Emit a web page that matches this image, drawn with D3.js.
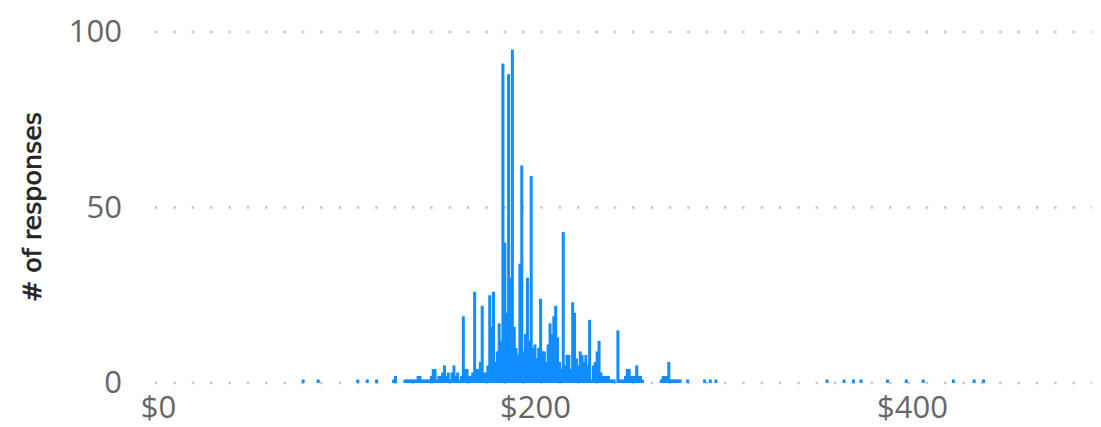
<!DOCTYPE html>
<html>
<head>
<meta charset="utf-8">
<script src="https://cdn.jsdelivr.net/npm/d3@7"></script>
<style>
  html, body { margin: 0; padding: 0; background: #fff; }
  svg { display: block; }
</style>
</head>
<body>
<script>
// ---- data ----
const prices = [
  77, 85, 106, 111, 116, 125, 126,
  131, 132, 133, 134, 135, 136, 137, 138, 139, 140, 141, 142, 143, 144, 145, 146, 147, 148, 149, 150,
  151, 152, 153, 154, 155, 156, 157, 158, 159, 160, 161, 162, 163, 164, 165, 166, 167, 168, 169, 170,
  171, 172, 173, 174, 175, 176, 177, 178, 179, 180, 181, 182, 183, 184, 185, 186, 187, 188, 189, 190,
  191, 192, 193, 194, 195, 196, 197, 198, 199, 200, 201, 202, 203, 204, 205, 206, 207, 208, 209, 210,
  211, 212, 213, 214, 215, 216, 217, 218, 219, 220, 221, 222, 223, 224, 225, 226, 227, 228, 229, 230,
  231, 232, 233, 234, 235, 236, 237, 238, 239, 240, 241, 242, 244, 245, 246, 247, 248, 249, 250,
  251, 252, 253, 254, 255, 256, 257,
  267, 268, 269, 270, 271, 272, 273, 274, 275, 276, 277, 281, 290, 293, 296,
  355, 364, 369, 373, 387, 397, 406, 422, 433, 438
];
const responses = [
  1, 1, 1, 1, 1, 1, 2,
  1, 1, 1, 1, 1, 1, 1, 2, 2, 1, 1, 1, 1, 1, 2, 4, 4, 1, 2, 2,
  3, 5, 2, 3, 1, 3, 5, 2, 3, 1, 2, 19, 4, 4, 2, 2, 3, 26, 4, 4,
  6, 22, 3, 3, 5, 25, 16, 26, 6, 9, 17, 12, 91, 40, 20, 88, 30, 95, 16, 10,
  8, 34, 62, 9, 14, 30, 12, 59, 10, 11, 7, 10, 24, 9, 9, 6, 11, 17, 14, 19,
  22, 13, 6, 4, 43, 5, 8, 8, 4, 23, 20, 7, 5, 9, 8, 6, 8, 5, 18, 1,
  5, 6, 9, 12, 3, 2, 2, 2, 2, 1, 1, 1, 15, 1, 1, 1, 2, 4, 4,
  2, 2, 2, 5, 2, 2, 1,
  1, 2, 2, 2, 6, 1, 1, 1, 1, 1, 1, 1, 1, 1, 1,
  1, 1, 1, 1, 1, 1, 1, 1, 1, 1
];
const yTicks = [0, 50, 100];
const xTicks = [0, 200, 400];
const yTitle = "# of responses";

// ---- chart ----
const W = 1101, H = 427;
const svg = d3.select("body").append("svg").attr("width", W).attr("height", H);

const x = d3.scaleLinear().domain([0, 495]).range([158, 1091]);
const y = d3.scaleLinear().domain([0, 100]).range([383, 32]);

const data = prices.map((p, i) => ({ p, v: responses[i] }));

// gridlines (dotted)
svg.append("g").selectAll("line").data(yTicks).join("line")
  .attr("x1", 155).attr("x2", 1092)
  .attr("y1", d => y(d)).attr("y2", d => y(d))
  .attr("stroke", "#c8c6c4").attr("stroke-width", 2.5)
  .attr("stroke-dasharray", "2.5,15.85");

// bars
const bw = 3;
svg.append("g").selectAll("rect").data(data).join("rect")
  .attr("x", d => x(d.p) - bw / 2)
  .attr("width", bw)
  .attr("y", d => y(d.v))
  .attr("height", d => y(0) - y(d.v))
  .attr("fill", "#118dff");

// y axis
const yAxis = d3.axisLeft(y).tickValues(yTicks).tickSize(0).tickPadding(0);
const gy = svg.append("g").attr("transform", "translate(122,0)").call(yAxis);
gy.select(".domain").remove();
gy.selectAll("text")
  .attr("font-family", "'Open Sans', 'Segoe UI', sans-serif")
  .attr("font-size", 31).attr("fill", "#666666");

// x axis
const xAxis = d3.axisBottom(x).tickValues(xTicks).tickSize(0).tickPadding(0)
  .tickFormat(d => "$" + d);
const gx = svg.append("g").attr("transform", "translate(0,396)").call(xAxis);
gx.select(".domain").remove();
gx.selectAll("text")
  .attr("font-family", "'Open Sans', 'Segoe UI', sans-serif")
  .attr("font-size", 31).attr("fill", "#666666");

// y title
svg.append("text")
  .attr("transform", "translate(41,207) rotate(-90)")
  .attr("text-anchor", "middle")
  .attr("font-family", "'DejaVu Sans Condensed', 'Liberation Sans Narrow', sans-serif")
  .attr("font-size", 25)
  .attr("fill", "#252423")
  .attr("stroke", "#252423")
  .attr("stroke-width", 0.6)
  .attr("textLength", 190)
  .attr("lengthAdjust", "spacingAndGlyphs")
  .text(yTitle);
</script>
</body>
</html>
